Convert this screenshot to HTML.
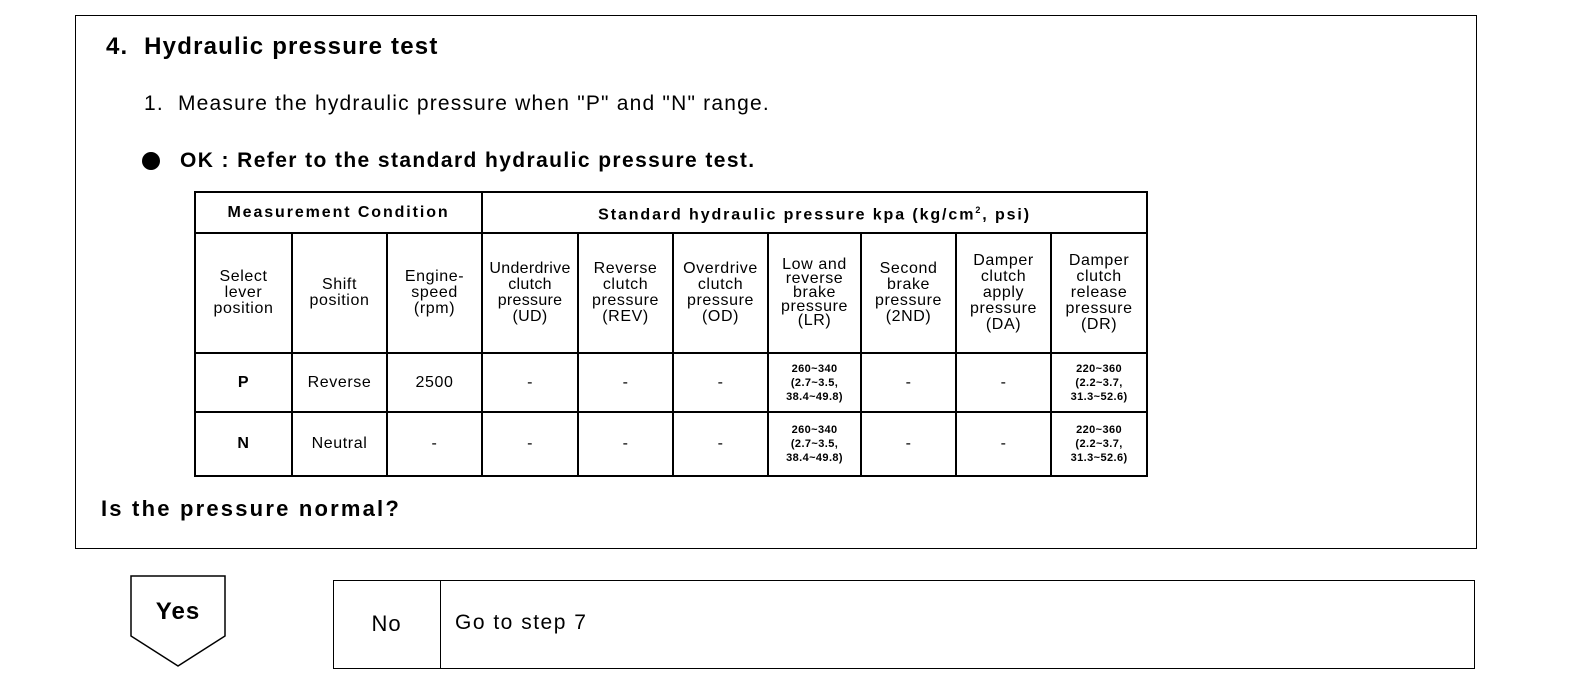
<!DOCTYPE html><html><head><style>
body{margin:0;width:1584px;height:696px;background:#fff;position:relative;font-family:"Liberation Sans",Arial,sans-serif;color:#000;overflow:hidden}
.a{position:absolute;white-space:nowrap}
.b{font-weight:bold}
table{position:absolute;left:194px;top:191px;width:952px;border-collapse:collapse;table-layout:fixed}
td{border:2px solid #000;text-align:center;vertical-align:middle;font-size:16px;line-height:16px;padding:0;letter-spacing:0.6px;white-space:nowrap}
.s{font-size:11px;line-height:14px;font-weight:bold;letter-spacing:0.4px}
.h{font-size:16px;letter-spacing:1.9px;font-weight:bold}
</style></head><body>
<div class="a" style="left:75px;top:15px;width:1400px;height:532px;border:1.5px solid #000"></div>
<div class="a b" style="left:106px;top:33px;font-size:24px;letter-spacing:1.2px">4.&nbsp;&nbsp;Hydraulic pressure test</div>
<div class="a" style="left:144px;top:92px;font-size:21px;letter-spacing:1.2px">1.&nbsp;&nbsp;Measure the hydraulic pressure when "P" and "N" range.</div>
<div class="a" style="left:142px;top:152px;width:18px;height:18px;border-radius:50%;background:#000"></div>
<div class="a b" style="left:180px;top:149px;font-size:21px;letter-spacing:1.4px">OK : Refer to the standard hydraulic pressure test.</div>
<table>
<colgroup><col style="width:97px"><col style="width:95px"><col style="width:95px"><col style="width:96px"><col style="width:95px"><col style="width:95px"><col style="width:93px"><col style="width:95px"><col style="width:95px"><col style="width:96px"></colgroup>
<tr style="height:41px"><td colspan="3" class="h">Measurement Condition</td><td colspan="7" class="h">Standard hydraulic pressure kpa (kg/cm<sup style="font-size:9px">2</sup>, psi)</td></tr>
<tr style="height:120px"><td>Select<br>lever<br>position</td><td>Shift<br>position</td><td>Engine-<br>speed<br>(rpm)</td><td style="letter-spacing:0.3px">Underdrive<br>clutch<br>pressure<br>(UD)</td><td>Reverse<br>clutch<br>pressure<br>(REV)</td><td>Overdrive<br>clutch<br>pressure<br>(OD)</td><td style="line-height:14px">Low and<br>reverse<br>brake<br>pressure<br>(LR)</td><td>Second<br>brake<br>pressure<br>(2ND)</td><td>Damper<br>clutch<br>apply<br>pressure<br>(DA)</td><td>Damper<br>clutch<br>release<br>pressure<br>(DR)</td></tr>
<tr style="height:59px"><td class="b">P</td><td>Reverse</td><td>2500</td><td>-</td><td>-</td><td>-</td><td class="s">260~340<br>(2.7~3.5,<br>38.4~49.8)</td><td>-</td><td>-</td><td class="s">220~360<br>(2.2~3.7,<br>31.3~52.6)</td></tr>
<tr style="height:64px"><td class="b">N</td><td>Neutral</td><td>-</td><td>-</td><td>-</td><td>-</td><td class="s">260~340<br>(2.7~3.5,<br>38.4~49.8)</td><td>-</td><td>-</td><td class="s">220~360<br>(2.2~3.7,<br>31.3~52.6)</td></tr>
</table>
<div class="a b" style="left:101px;top:496px;font-size:22px;letter-spacing:2.2px">Is the pressure normal?</div>
<svg class="a" style="left:0;top:0" width="1584" height="696"><polygon points="131,576 225,576 225,636 178,666 131,636" fill="none" stroke="#000" stroke-width="1.5"/></svg>
<div class="a b" style="left:131px;top:598px;width:94px;text-align:center;font-size:24px;letter-spacing:1px">Yes</div>
<div class="a" style="left:333px;top:580px;width:1140px;height:87px;border:1.5px solid #000"></div>
<div class="a" style="left:440px;top:580px;width:0;height:88px;border-left:1.5px solid #000"></div>
<div class="a" style="left:333px;top:611px;width:107px;text-align:center;font-size:22px;letter-spacing:1px">No</div>
<div class="a" style="left:455px;top:611px;font-size:21px;letter-spacing:1.5px">Go to step 7</div>
</body></html>
